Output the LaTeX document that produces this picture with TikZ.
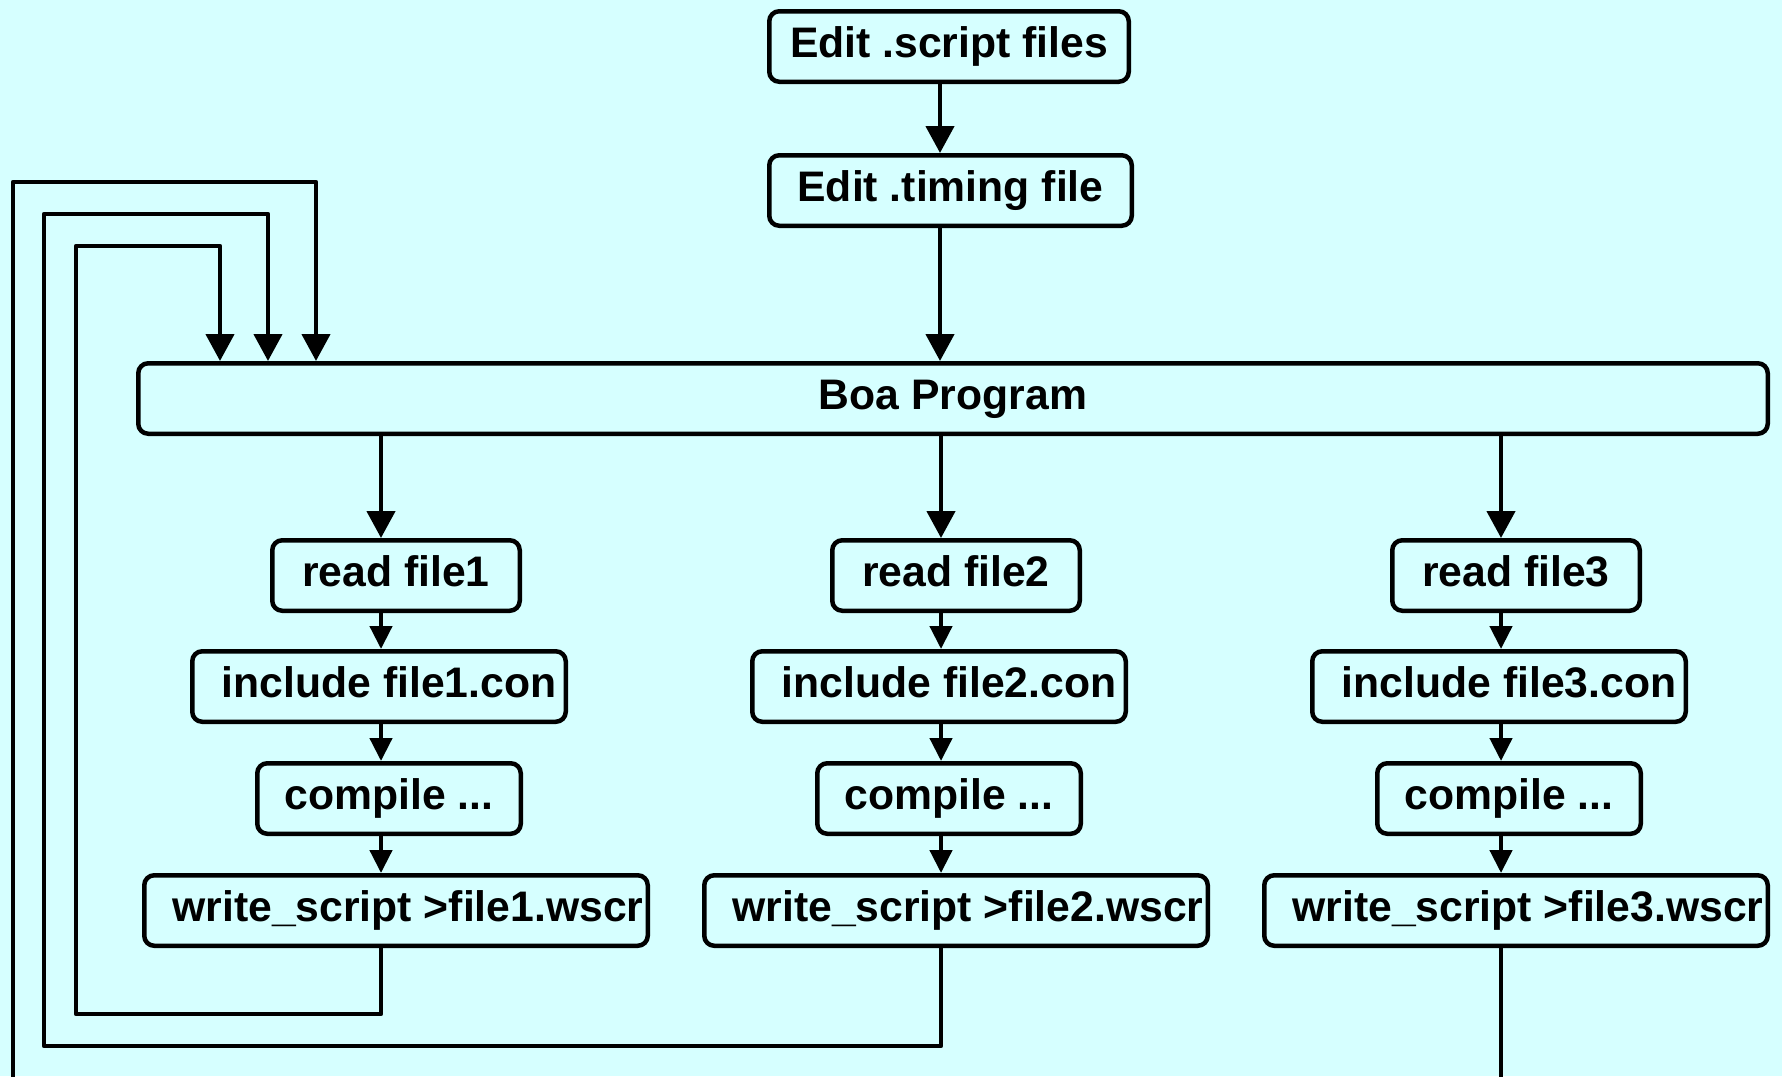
\documentclass[tikz,border=0pt]{standalone}
\usepackage{fontspec}
\setmainfont{Liberation Sans}
\usetikzlibrary{arrows.meta}
\definecolor{bgcyan}{RGB}{214,255,255}

\begin{document}
\begin{tikzpicture}[x=1pt, y=-1pt,
  flowbox/.style={draw=black, line width=4.5pt, rounded corners=10pt, fill=bgcyan,
    inner sep=0pt, minimum height=70.5pt, text height=31pt, text depth=10pt,
    font=\fontsize{42.7}{50}\selectfont\bfseries},
  bigarrow/.style={line width=4.5pt, -{Triangle[length=27pt,width=28pt]}},
  smallarrow/.style={line width=4.5pt, -{Triangle[length=23pt,width=22pt]}},
  loopback/.style={line width=4.5pt, line join=round, -{Triangle[length=27pt,width=28pt]}}]

  % page background and frame
  \fill[bgcyan] (0,0) rectangle (1782,1076);
  \clip (0,0) rectangle (1782,1076);

  % top chain
  \node[flowbox, minimum width=359.5pt] (script) at (949,46.5) {Edit .script files};
  \node[flowbox, minimum width=362.5pt] (timing) at (950.5,190.5) {Edit .timing file};
  \node[flowbox, minimum width=1629.5pt] (boa) at (953,398.5) {Boa Program};

  \coordinate (mainx) at (940,0);
  \draw[bigarrow] (script.south -| mainx) -- (timing.north -| mainx);
  \draw[bigarrow] (timing.south -| mainx) -- (boa.north -| mainx);

  % three processing columns
  \foreach \k in {0,1,2} {
    \pgfmathtruncatemacro{\n}{\k+1}
    \coordinate (colx\n) at (381+560*\k,0);
    \node[flowbox, minimum width=247.5pt] (read\n) at (396+560*\k,575.5) {read file\n};
    \node[flowbox, minimum width=373.5pt] (include\n) at (379+560*\k,686.5) {\hspace*{20pt}include file\n.con};
    \node[flowbox, minimum width=263.5pt] (compile\n) at (389+560*\k,798.5) {compile ...};
    \node[flowbox, minimum width=503.5pt] (write\n) at (396+560*\k,910.5) {\hspace*{24pt}write\_script >file\n.wscr};
    \draw[bigarrow] (boa.south -| colx\n) -- (read\n.north -| colx\n);
    \draw[smallarrow] (read\n.south -| colx\n) -- (include\n.north -| colx\n);
    \draw[smallarrow] (include\n.south -| colx\n) -- (compile\n.north -| colx\n);
    \draw[smallarrow] (compile\n.south -| colx\n) -- (write\n.north -| colx\n);
  }

  % feedback loops back into the Boa program
  \coordinate (bot1) at (76,1014);
  \coordinate (top1) at (220,246);
  \coordinate (bot2) at (44,1046);
  \coordinate (top2) at (268,214);
  \coordinate (bot3) at (13,1110);
  \coordinate (top3) at (316,182);

  \draw[loopback] (write1.south -| colx1) |- (bot1) |- (top1) -- (boa.north -| top1);
  \draw[loopback] (write2.south -| colx2) |- (bot2) |- (top2) -- (boa.north -| top2);
  \draw[loopback] (write3.south -| colx3) |- (bot3) |- (top3) -- (boa.north -| top3);
\end{tikzpicture}
\end{document}
